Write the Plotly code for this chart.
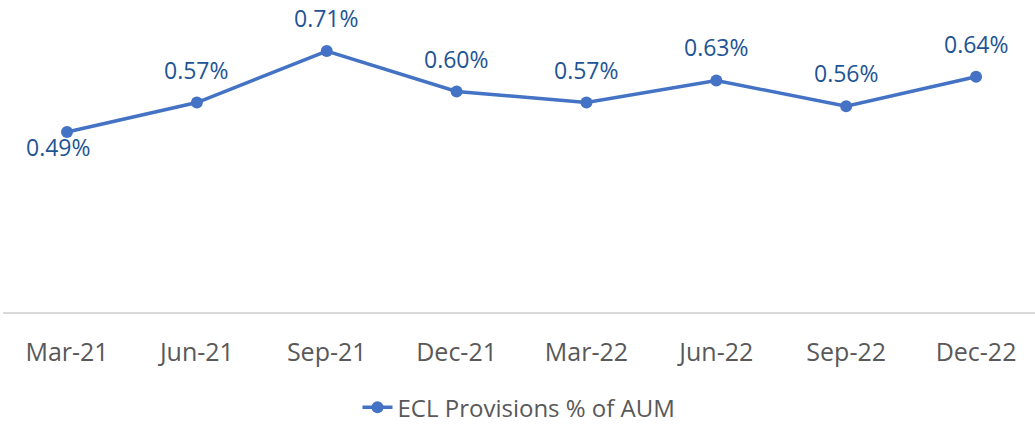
import plotly.graph_objects as go

categories = ["Mar-21", "Jun-21", "Sep-21", "Dec-21", "Mar-22", "Jun-22", "Sep-22", "Dec-22"]
values = [0.49, 0.57, 0.71, 0.60, 0.57, 0.63, 0.56, 0.64]
labels = ["0.49%", "0.57%", "0.71%", "0.60%", "0.57%", "0.63%", "0.56%", "0.64%"]
series_name = "ECL Provisions % of AUM"

FONT = "Open Sans, Noto Sans, sans-serif"
LINE = "#4472C4"
LABEL = "#1E5494"

fig = go.Figure()
fig.add_trace(go.Scatter(
    x=categories, y=values, mode="lines+markers", name=series_name,
    line=dict(color=LINE, width=3.5),
    marker=dict(color=LINE, size=12),
))

for i, (c, v, t) in enumerate(zip(categories, values, labels)):
    if i == 0:
        fig.add_annotation(x=c, y=v, text=t, showarrow=False, yshift=-15, xshift=-9,
                           font=dict(family=FONT, size=23, color=LABEL))
    else:
        fig.add_annotation(x=c, y=v, text=t, showarrow=False, yshift=33,
                           font=dict(family=FONT, size=23, color=LABEL))

fig.update_layout(
    width=1035, height=424,
    margin=dict(l=3, r=0, t=18, b=112, autoexpand=False),
    paper_bgcolor="white", plot_bgcolor="white",
    showlegend=True,
    legend=dict(orientation="h", x=0.5, xanchor="center", y=-0.325, yanchor="middle",
                borderwidth=0, font=dict(family=FONT, size=24, color="#595959")),
    xaxis=dict(type="category", range=[-0.493, 7.454], showgrid=False,
               showline=True, linecolor="#D9D9D9", linewidth=2,
               ticks="", tickfont=dict(family=FONT, size=25, color="#595959"),
               ticklabelstandoff=17, zeroline=False, automargin=False),
    yaxis=dict(range=[0, 0.8], visible=False, showgrid=False, zeroline=False, automargin=False),
)

fig.write_html(
    "out.html",
    config={"responsive": False, "displayModeBar": False},
    post_script=(
        "document.documentElement.style.margin='0';"
        "document.documentElement.style.overflow='hidden';"
        "document.body.style.margin='0';"
        "document.body.style.overflow='hidden';"
    ),
)
